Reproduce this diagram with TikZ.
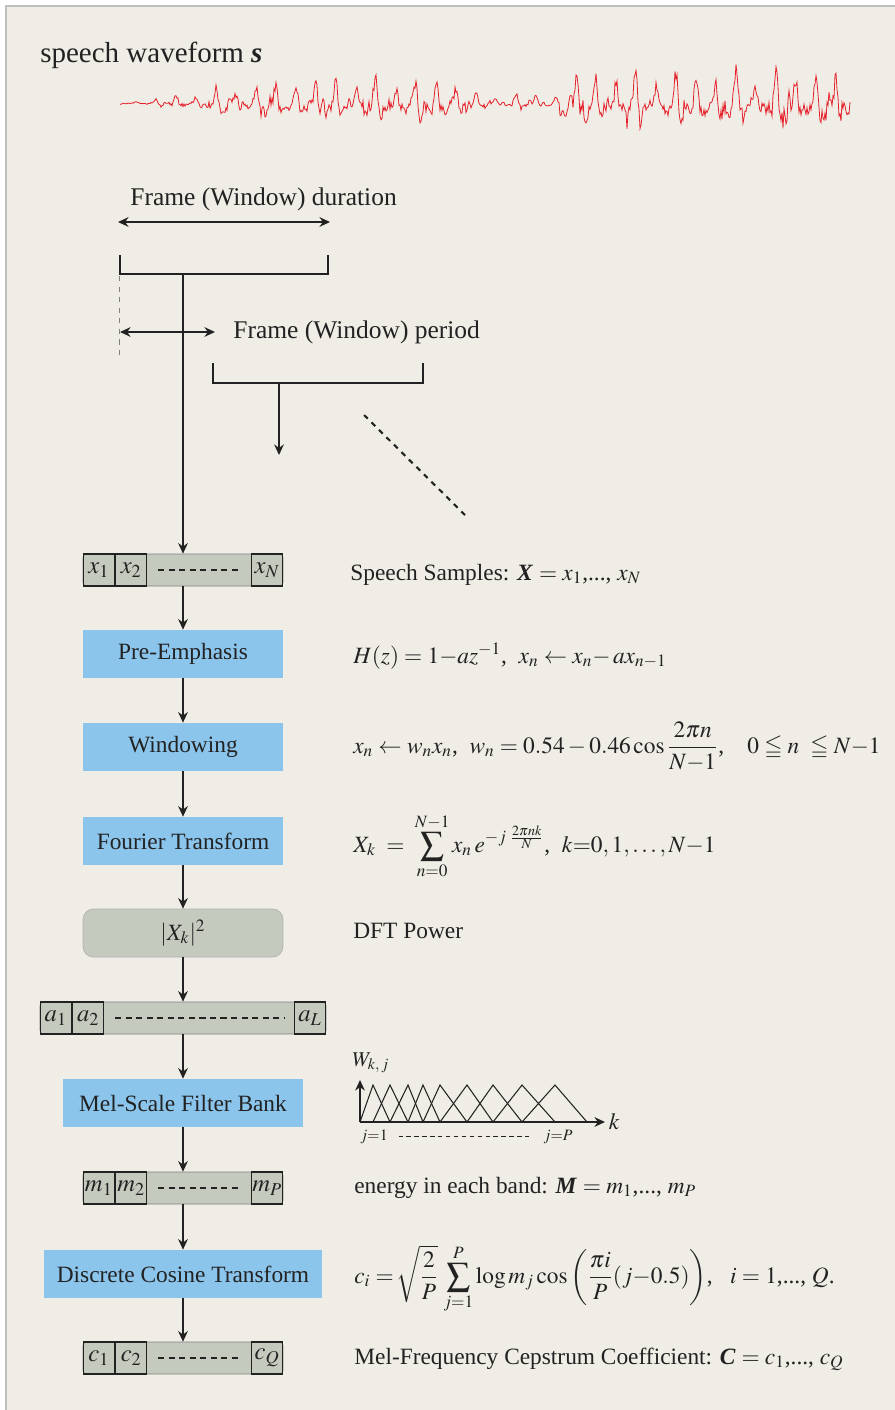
\documentclass[tikz,border=0pt]{standalone}
\usepackage{amsmath,amssymb}
\usepackage{mathptmx}
\usepackage{fontspec}
\setmainfont{Liberation Serif}
\usetikzlibrary{arrows.meta, positioning}

\definecolor{paper}{HTML}{F0EDE6}
\definecolor{stepblue}{HTML}{8CC5EC}
\definecolor{vecgray}{HTML}{C5CABF}
\definecolor{wavered}{HTML}{E5202A}
\definecolor{ink}{HTML}{222222}

\tikzset{>={Stealth[length=6pt,width=5.5pt]}}
\tikzset{
  txt/.style={font=\fontsize{13.3}{16}\selectfont, text=ink, inner sep=0pt},
  procbox/.style={txt, fill=stepblue, minimum width=4cm, minimum height=0.96cm},
  vecbox/.style={fill=vecgray, draw=gray, rounded corners=2pt, minimum height=0.64cm},
  cellbox/.style={txt, font=\fontsize{14}{16}\selectfont, draw=ink, line width=0.8pt,
    minimum width=0.62cm, minimum height=0.64cm},
  flow/.style={->, line width=1.1pt, draw=ink},
  bracket/.style={line width=1.7pt, draw=ink},
}

% vector of samples: name, centre, width, first, second, last
\newcommand{\vecrow}[6]{%
  \node[vecbox, minimum width=#3] (#1) at (#2) {};
  \node[cellbox, anchor=west] (#1a) at (#1.west) {$#4$};
  \node[cellbox, right=0pt of #1a] (#1b) {$#5$};
  \node[cellbox, anchor=east] (#1z) at (#1.east) {$#6$};
  \draw[dash pattern=on 3.5pt off 2.5pt, line width=0.7pt, ink] ([xshift=6pt]#1b.east) -- ([xshift=-5pt]#1z.west);
}

\begin{document}
\begin{tikzpicture}[x=0.02cm, y=-0.02cm,
  declare function={wenv(\t)=(\t<140)?2:((\t<290)?(2+20*(\t-140)/150):((\t<470)?22:((\t<560)?8:30)));}]

\useasboundingbox (0,0) rectangle (895,1410);

% Paper
\fill[white] (0,0) rectangle (895,1410);
\fill[paper] (6,6) rectangle (895,1410);
\draw[gray!50, line width=0.8pt] (6,1410) -- (6,6) -- (895,6);

% Waveform
\node[anchor=base west, font=\fontsize{16.5}{19}\selectfont, text=ink, inner sep=0pt] (title) at (40,62)
  {speech waveform \textbf{\textit{s}}};
\pgfmathsetseed{11}
\draw[wavered, line width=0.45pt] plot[domain=120:850, samples=731, variable=\t]
  (\t, {103 + wenv(\t)*(0.85+0.25*sin(7*\t))*(0.5*sin(18*mod(\t,20)) + 0.3*sin(36*mod(\t,10)+60)
        + 0.2*sin(54*mod(\t,20/3)+120) + 0.2*sin(360*mod(\t,13)/13) + 0.3*rand)});

% Frame duration
\node[anchor=base west, txt, font=\fontsize{14.5}{17}\selectfont] (durlbl) at (130,205) {Frame (Window) duration};
\coordinate (durL) at (118,222);
\coordinate (durR) at (330,222);
\draw[<->, line width=0.9pt, ink] (durL) -- (durR);
\draw[bracket] (120,255) -- (120,274) -- (328,274) -- (328,255);
\coordinate (fr1) at (183,274);

% Frame period
\draw[gray, dashed, line width=0.5pt] (119,276) -- (119,355);
\node[anchor=base west, txt, font=\fontsize{14.5}{17}\selectfont] (perlbl) at (233,338) {Frame (Window) period};
\coordinate (perL) at (120,332);
\coordinate (perR) at (215,332);
\draw[<->, line width=0.9pt, ink] (perL) -- (perR);
\draw[bracket] (213,363) -- (213,383) -- (423,383) -- (423,363);
\coordinate (fr2) at (279,383);
\coordinate (fr2end) at (279,455);
\draw[flow] (fr2) -- (fr2end);
\draw[dashed, line width=1.2pt, ink] (364,415) -- (465,515);

% Processing chain
\vecrow{xs}{183,570}{4cm}{x_1}{x_2}{x_N}
\node[procbox] (pre) at (183,654) {Pre-Emphasis};
\node[procbox] (win) at (183,747) {Windowing};
\node[procbox] (fft) at (183,841) {Fourier Transform};
\node[txt, fill=vecgray, draw=gray!60, rounded corners=6pt, minimum width=4cm, minimum height=0.96cm] (pow) at (183,933) {$|X_k|^2$};
\vecrow{av}{183,1018}{5.72cm}{a_1}{a_2}{a_L}
\node[procbox, minimum width=4.8cm] (mel) at (183,1103) {Mel-Scale Filter Bank};
\vecrow{mv}{183,1188}{4cm}{m_1}{m_2}{m_P}
\node[procbox, minimum width=5.58cm] (dct) at (183,1274) {Discrete Cosine Transform};
\vecrow{cv}{183,1358}{4cm}{c_1}{c_2}{c_Q}

\draw[flow] (fr1) -- (xs.north);
\draw[flow] (xs.south) -- (pre.north);
\draw[flow] (pre.south) -- (win.north);
\draw[flow] (win.south) -- (fft.north);
\draw[flow] (fft.south) -- (pow.north);
\draw[flow] (pow.south) -- (av.north);
\draw[flow] (av.south) -- (mel.north);
\draw[flow] (mel.south) -- (mv.north);
\draw[flow] (mv.south) -- (dct.north);
\draw[flow] (dct.south) -- (cv.north);

% Equations
\node[txt, anchor=base west] (eqx) at (350,580) {Speech Samples: \textbf{\textit{X}} $=x_1$,..., $x_N$};
\node[txt, anchor=base west] (eqpre) at (353,663) {$H(z)=1{-}az^{-1}$,\ \ $x_n\leftarrow x_n{-}\,ax_{n-1}$};
\node[txt, anchor=base west] (eqwin) at (353,753)
  {$x_n\leftarrow w_n x_n$,\ \ $w_n=0.54-0.46\cos\dfrac{2\pi n}{N{-}1}$,\quad $0\leqq n\ \leqq N{-}1$};
\node[txt, anchor=base west] (eqfft) at (353,852)
  {$X_k\;=\;\displaystyle\sum_{n=0}^{N-1}x_n\,e^{-j\;\frac{2\pi nk}{N}}$,\ \ $k{=}0, 1, \ldots, N{-}1$};
\node[txt, anchor=base west] (eqpow) at (353,938) {DFT Power};
\node[txt, anchor=base west] (eqmv) at (354,1193) {energy in each band: \textbf{\textit{M}} $=m_1$,..., $m_P$};
\node[txt, anchor=base west] (eqdct) at (354,1283)
  {$c_i=\!\sqrt{\dfrac{2}{P}}\,\displaystyle\sum_{j=1}^{P}\log m_j\cos\left(\dfrac{\pi i}{P}(j{-}0.5)\right)$,\ \ \ $i=1$,..., $Q$.};
\node[txt, anchor=base west] (eqcv) at (354,1364) {Mel-Frequency Cepstrum Coefficient: \textbf{\textit{C}} $=c_1$,..., $c_Q$};

% Filter bank weights
\coordinate (fb0) at (360,1122);
\coordinate (fbtop) at (360,1080);
\coordinate (fbend) at (605,1122);
\draw[->, line width=1.3pt, ink] (fb0) -- (fbtop);
\foreach \a/\b/\c in {360/373/390, 373/390/408, 390/408/423, 408/423/440, 423/440/467,
                      440/467/493, 467/493/522, 493/522/555, 522/555/587}
  \draw[ink, line width=0.6pt] (\a,1122) -- (\b,1085) -- (\c,1122);
\draw[->, line width=1.3pt, ink] (fb0) -- (fbend);
\node[txt, anchor=west, inner sep=2pt] (klbl) at (fbend) {$k$};
\node[txt, anchor=base west, font=\fontsize{12}{14}\selectfont] (wlbl) at (352,1066) {$W_{k,\,j}$};
\node[txt, anchor=base, font=\fontsize{9}{11}\selectfont] (j1) at (374,1140) {$j{=}1$};
\node[txt, anchor=base, font=\fontsize{9}{11}\selectfont] (jP) at (558,1140) {$j{=}P$};
\draw[dashed, dash pattern=on 2.5pt off 2pt, ink, line width=0.5pt] ([xshift=6pt]j1.east |- 0,1136) -- ([xshift=-6pt]jP.west |- 0,1136);

\end{tikzpicture}
\end{document}
